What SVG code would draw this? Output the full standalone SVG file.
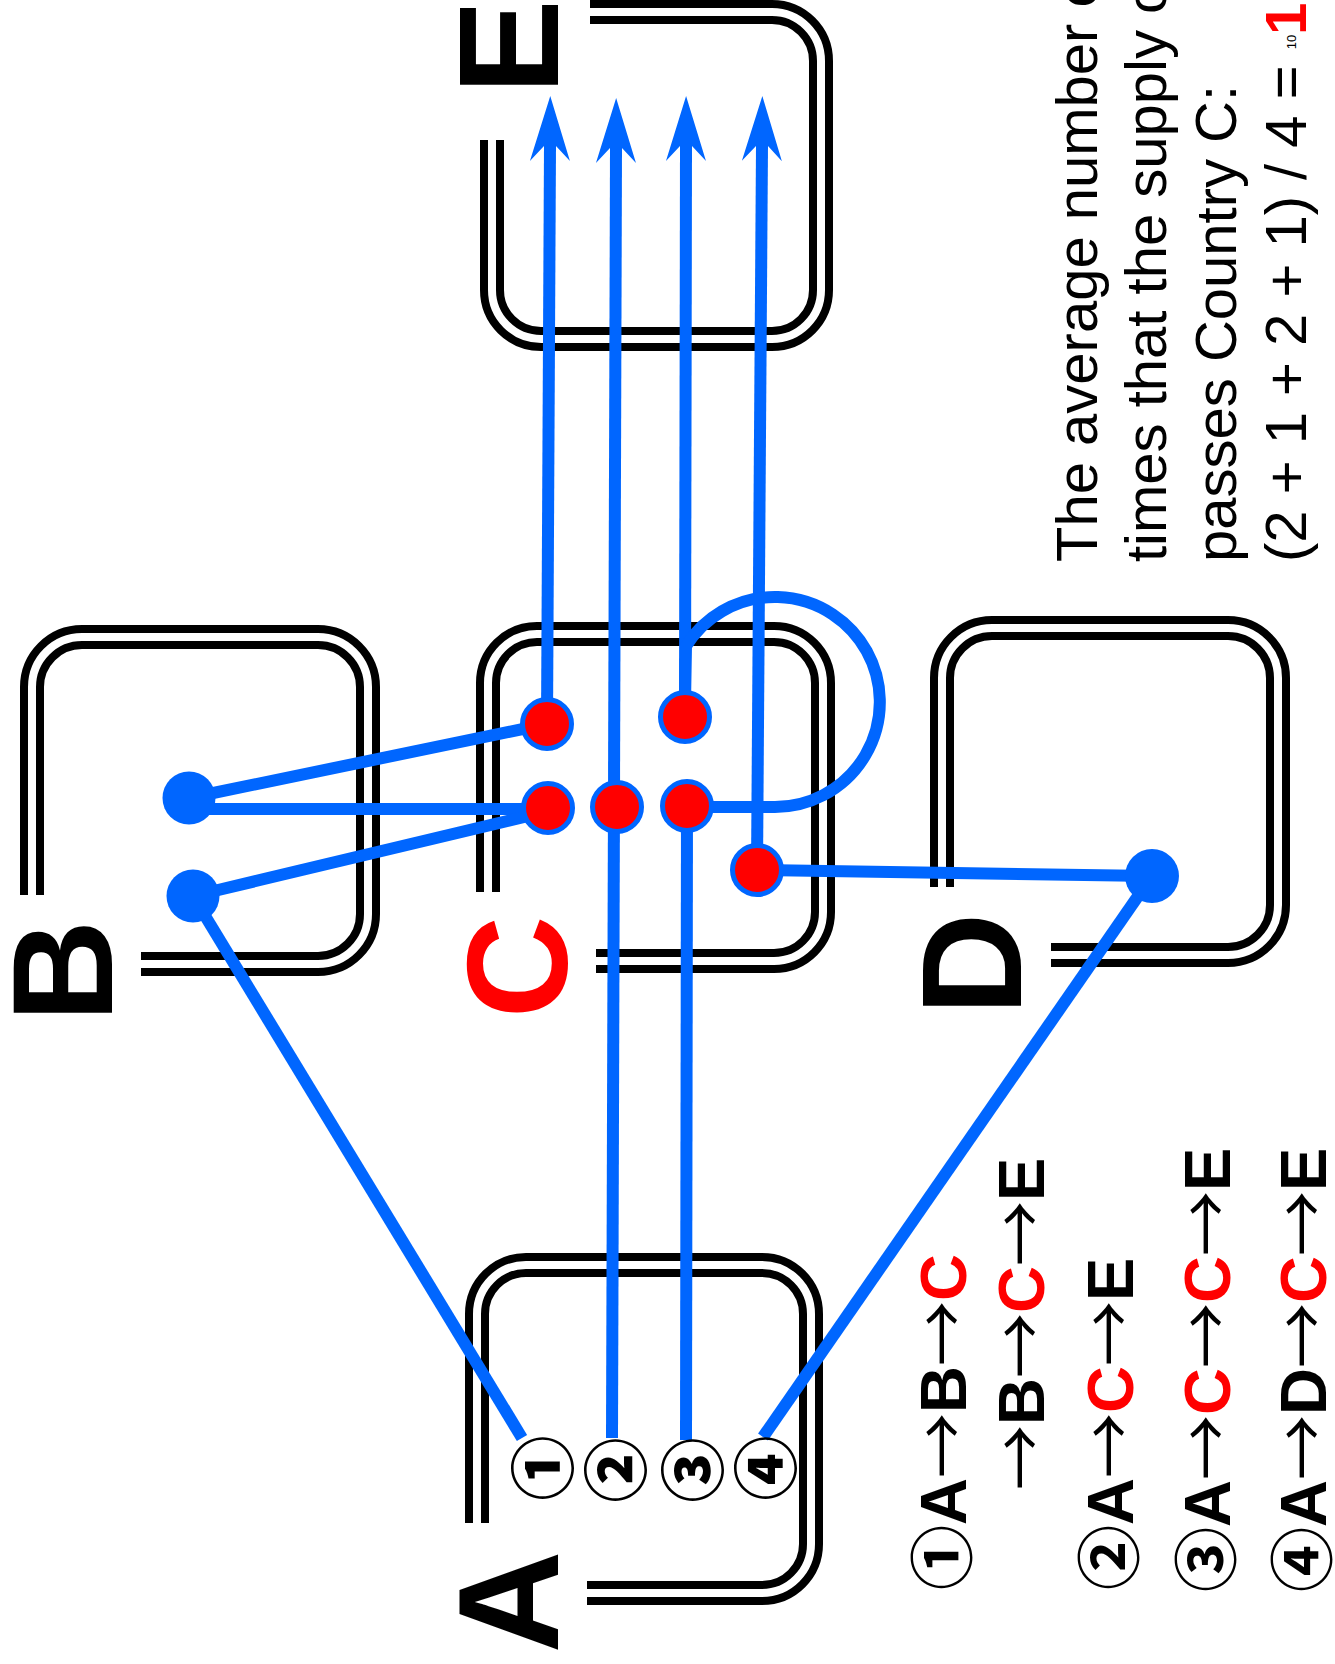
<svg xmlns="http://www.w3.org/2000/svg" width="1335" height="1664" viewBox="0 0 1335 1664">
<style>
.box-o{fill:none;stroke:#000;stroke-width:24;stroke-linecap:butt}
.box-i{fill:none;stroke:#fff;stroke-width:8;stroke-linecap:butt}
.ln{fill:none;stroke:#0066FF;stroke-width:12;stroke-linecap:butt}
.arr{marker-end:url(#ah)}
.rd{fill:#FF0000;stroke:#0066FF;stroke-width:5}
.bd{fill:#0066FF}
.big{font-family:"Liberation Sans",Arial,sans-serif;font-weight:bold;font-size:142px;fill:#000}
.num{font-family:"Noto Sans CJK JP",sans-serif;font-weight:900;font-size:65px;fill:#000}
.leg{font-family:"Liberation Sans","Noto Sans CJK JP",sans-serif;font-weight:bold;font-size:65px;fill:#000}
.cn{font-family:"Noto Sans CJK JP",sans-serif;font-weight:bold}
.ar{font-family:"Noto Sans CJK JP",sans-serif;font-weight:normal}
.red{fill:#FF0000}
.note{font-family:"Liberation Sans",Arial,sans-serif;font-size:58px;fill:#000}
</style>
<defs>
<marker id="ah" markerUnits="userSpaceOnUse" viewBox="-20 -25 80 50" markerWidth="80" markerHeight="50" refX="0" refY="0" orient="auto">
<path d="M50,0 L-15,-20 L0,-6 L0,6 L-15,20 Z" fill="#0066FF"/>
</marker>
<path id="pA" d="M477,1523 V1314 A49,49 0 0 1 526,1265 H762 A49,49 0 0 1 811,1314 V1544 A49,49 0 0 1 762,1593 H587"/>
<path id="pB" d="M32,895 V687 A50,50 0 0 1 82,637 H318 A50,50 0 0 1 368,687 V914 A50,50 0 0 1 318,964 H141"/>
<path id="pC" d="M488,892 V683 A49,49 0 0 1 537,634 H774 A49,49 0 0 1 823,683 V912 A49,49 0 0 1 774,961 H596"/>
<path id="pD" d="M942,887 V678 A50,50 0 0 1 992,628 H1228 A50,50 0 0 1 1278,678 V905 A50,50 0 0 1 1228,955 H1051"/>
<path id="pE" d="M590,12 H772 A49,49 0 0 1 821,61 V290 A49,49 0 0 1 772,339 H541 A49,49 0 0 1 492,290 V140"/>
</defs>
<rect width="1335" height="1664" fill="#fff"/>

<g id="nodeA">
<use href="#pA" class="box-o"/><use href="#pA" class="box-i"/>
<text class="big" text-anchor="middle" transform="translate(558,1602) rotate(-90)">A</text>
</g>
<g id="nodeB">
<use href="#pB" class="box-o"/><use href="#pB" class="box-i"/>
<text class="big" text-anchor="middle" transform="translate(112,971) rotate(-90)">B</text>
</g>
<g id="nodeC">
<use href="#pC" class="box-o"/><use href="#pC" class="box-i"/>
<text class="big red" text-anchor="middle" transform="translate(567,967) rotate(-90)">C</text>
</g>
<g id="nodeD">
<use href="#pD" class="box-o"/><use href="#pD" class="box-i"/>
<text class="big" text-anchor="middle" transform="translate(1021,964) rotate(-90)">D</text>
</g>
<g id="nodeE">
<use href="#pE" class="box-o"/><use href="#pE" class="box-i"/>
<text class="big" text-anchor="middle" transform="translate(558,47) rotate(-90)">E</text>
</g>

<g id="connectors">
<line class="ln" x1="522" y1="1438" x2="193" y2="896"/>
<line class="ln arr" x1="612" y1="1438" x2="616" y2="148"/>
<line class="ln" x1="686" y1="1440" x2="687" y2="806"/>
<line class="ln" x1="763" y1="1437" x2="1152" y2="876"/>
<line class="ln" x1="189" y1="798" x2="547" y2="724"/>
<line class="ln" x1="189" y1="809" x2="548" y2="809"/>
<line class="ln" x1="193" y1="896" x2="545" y2="812"/>
<line class="ln arr" x1="547" y1="724" x2="550" y2="146"/>
<line class="ln arr" x1="685" y1="717" x2="686" y2="146"/>
<line class="ln arr" x1="757" y1="870" x2="762" y2="146"/>
<path class="ln" d="M687,807 H775 A105,105 0 1 0 686,646 L685,700"/>
<line class="ln" x1="757" y1="870" x2="1152" y2="876"/>
</g>

<g id="points">
<circle class="rd" cx="547" cy="724" r="24.5"/>
<circle class="rd" cx="548" cy="808" r="24.5"/>
<circle class="rd" cx="617" cy="807" r="24.5"/>
<circle class="rd" cx="685" cy="717" r="24.5"/>
<circle class="rd" cx="687" cy="806" r="24.5"/>
<circle class="rd" cx="757" cy="870" r="24.5"/>
<circle class="bd" cx="189" cy="798" r="26.5"/>
<circle class="bd" cx="193" cy="896" r="26.5"/>
<circle class="bd" cx="1152" cy="876" r="27"/>
</g>

<g id="routes">
<text class="num" text-anchor="middle" dominant-baseline="central" transform="translate(539,1468) rotate(-90)">①</text>
<text class="num" text-anchor="middle" dominant-baseline="central" transform="translate(612,1470) rotate(-90)">②</text>
<text class="num" text-anchor="middle" dominant-baseline="central" transform="translate(689,1470) rotate(-90)">③</text>
<text class="num" text-anchor="middle" dominant-baseline="central" transform="translate(762,1468) rotate(-90)">④</text>
</g>

<g id="legend">
<text class="leg" transform="translate(966,1590) rotate(-90)"><tspan class="cn">①</tspan>A<tspan class="ar">→</tspan>B<tspan class="ar">→</tspan><tspan class="red">C</tspan></text>
<text class="leg" transform="translate(1044,1490) rotate(-90)"><tspan class="ar">→</tspan>B<tspan class="ar">→</tspan><tspan class="red">C</tspan><tspan class="ar">→</tspan>E</text>
<text class="leg" transform="translate(1133,1590) rotate(-90)"><tspan class="cn">②</tspan>A<tspan class="ar">→</tspan><tspan class="red">C</tspan><tspan class="ar">→</tspan>E</text>
<text class="leg" transform="translate(1230,1592) rotate(-90)"><tspan class="cn">③</tspan>A<tspan class="ar">→</tspan><tspan class="red">C</tspan><tspan class="ar">→</tspan><tspan class="red">C</tspan><tspan class="ar">→</tspan>E</text>
<text class="leg" transform="translate(1326,1592) rotate(-90)"><tspan class="cn">④</tspan>A<tspan class="ar">→</tspan>D<tspan class="ar">→</tspan><tspan class="red">C</tspan><tspan class="ar">→</tspan>E</text>
</g>

<g id="note">
<text class="note" transform="translate(1097,562) rotate(-90)">The average number of</text>
<text class="note" transform="translate(1166,562) rotate(-90)">times that the supply of</text>
<text class="note" transform="translate(1236,562) rotate(-90)">passes Country C:</text>
<text class="note" transform="translate(1306,562) rotate(-90)">(2 + 1 + 2 + 1) / 4 = <tspan font-size="13" dy="-10">10</tspan><tspan class="red" font-weight="bold" dy="10">1.5</tspan></text>
</g>
</svg>
